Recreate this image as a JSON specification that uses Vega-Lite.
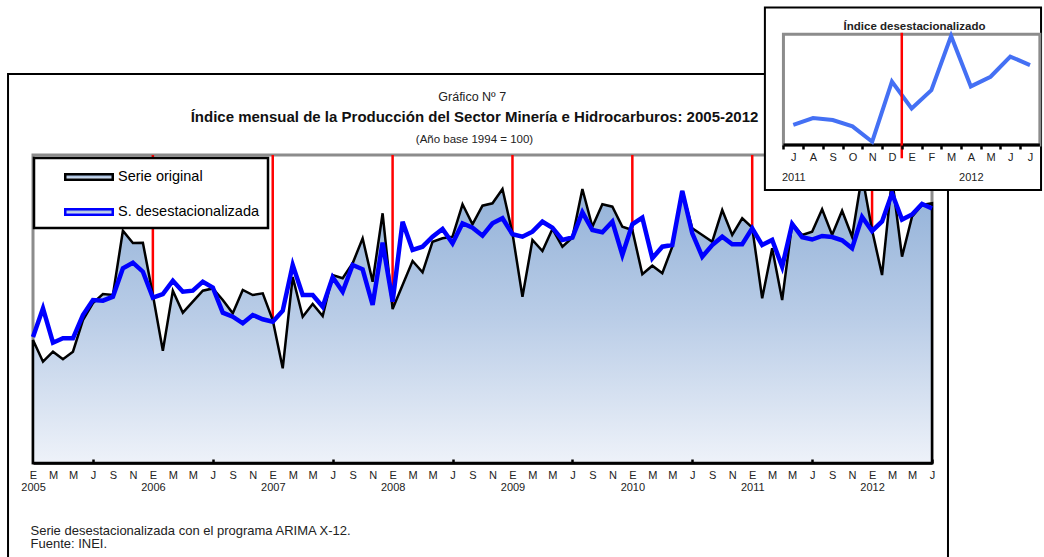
{
  "$schema": "https://vega.github.io/schema/vega-lite/v6.json",
  "autosize": {"type": "none"},
  "width": 899,
  "height": 308,
  "padding": {"left": 33, "top": 155, "right": 112, "bottom": 94},
  "background": "white",
  "config": {
    "view": {"stroke": null},
    "font": "Liberation Sans",
    "axis": {"grid": false, "labelOverlap": false, "labelFlush": false, "labelBound": false},
    "legend": {"strokeWidth": 2.5}
  },
  "title": {
    "text": "Índice mensual de la Producción del Sector Minería e Hidrocarburos: 2005-2012",
    "subtitle": "(Año base 1994 = 100)",
    "anchor": "middle",
    "frame": "group",
    "dx": -8,
    "offset": -139,
    "font": "Liberation Sans",
    "fontSize": 15,
    "fontWeight": "bold",
    "color": "#111111",
    "subtitleFont": "Liberation Sans",
    "subtitleFontSize": 11.5,
    "subtitleColor": "#222222",
    "subtitlePadding": 9
  },
  "data": {
    "values": [
      {"t": 0, "fecha": "2005-01", "orig": 123, "desest": 126},
      {"t": 1, "fecha": "2005-02", "orig": 101.3, "desest": 154.7},
      {"t": 2, "fecha": "2005-03", "orig": 111.3, "desest": 120.3},
      {"t": 3, "fecha": "2005-04", "orig": 103.7, "desest": 124.7},
      {"t": 4, "fecha": "2005-05", "orig": 111.3, "desest": 124.7},
      {"t": 5, "fecha": "2005-06", "orig": 143, "desest": 148},
      {"t": 6, "fecha": "2005-07", "orig": 160, "desest": 163},
      {"t": 7, "fecha": "2005-08", "orig": 169, "desest": 162.3},
      {"t": 8, "fecha": "2005-09", "orig": 168, "desest": 166.3},
      {"t": 9, "fecha": "2005-10", "orig": 232.3, "desest": 194.7},
      {"t": 10, "fecha": "2005-11", "orig": 220, "desest": 200.3},
      {"t": 11, "fecha": "2005-12", "orig": 220.3, "desest": 191.3},
      {"t": 12, "fecha": "2006-01", "orig": 168, "desest": 165.3},
      {"t": 13, "fecha": "2006-02", "orig": 112.3, "desest": 169},
      {"t": 14, "fecha": "2006-03", "orig": 172.3, "desest": 182.3},
      {"t": 15, "fecha": "2006-04", "orig": 150.3, "desest": 171.3},
      {"t": 16, "fecha": "2006-05", "orig": 161.3, "desest": 172.3},
      {"t": 17, "fecha": "2006-06", "orig": 172.3, "desest": 181.3},
      {"t": 18, "fecha": "2006-07", "orig": 174.5, "desest": 175.5},
      {"t": 19, "fecha": "2006-08", "orig": 163, "desest": 150.3},
      {"t": 20, "fecha": "2006-09", "orig": 149.7, "desest": 146.3},
      {"t": 21, "fecha": "2006-10", "orig": 173, "desest": 139.7},
      {"t": 22, "fecha": "2006-11", "orig": 168, "desest": 148},
      {"t": 23, "fecha": "2006-12", "orig": 169.7, "desest": 143.7},
      {"t": 24, "fecha": "2007-01", "orig": 143, "desest": 141.3},
      {"t": 25, "fecha": "2007-02", "orig": 94.7, "desest": 152.3},
      {"t": 26, "fecha": "2007-03", "orig": 186, "desest": 198},
      {"t": 27, "fecha": "2007-04", "orig": 146.3, "desest": 168},
      {"t": 28, "fecha": "2007-05", "orig": 159, "desest": 168},
      {"t": 29, "fecha": "2007-06", "orig": 147, "desest": 156.3},
      {"t": 30, "fecha": "2007-07", "orig": 188, "desest": 185.7},
      {"t": 31, "fecha": "2007-08", "orig": 184.7, "desest": 171.3},
      {"t": 32, "fecha": "2007-09", "orig": 199.7, "desest": 198},
      {"t": 33, "fecha": "2007-10", "orig": 224.7, "desest": 193.7},
      {"t": 34, "fecha": "2007-11", "orig": 181.3, "desest": 158},
      {"t": 35, "fecha": "2007-12", "orig": 249.7, "desest": 220.3},
      {"t": 36, "fecha": "2008-01", "orig": 154, "desest": 161.3},
      {"t": 37, "fecha": "2008-02", "orig": 178, "desest": 241.3},
      {"t": 38, "fecha": "2008-03", "orig": 202, "desest": 213},
      {"t": 39, "fecha": "2008-04", "orig": 190.7, "desest": 216.3},
      {"t": 40, "fecha": "2008-05", "orig": 221.3, "desest": 226.3},
      {"t": 41, "fecha": "2008-06", "orig": 224.7, "desest": 234},
      {"t": 42, "fecha": "2008-07", "orig": 226.3, "desest": 219.7},
      {"t": 43, "fecha": "2008-08", "orig": 258.7, "desest": 239.7},
      {"t": 44, "fecha": "2008-09", "orig": 238.7, "desest": 235.3},
      {"t": 45, "fecha": "2008-10", "orig": 257.3, "desest": 227.3},
      {"t": 46, "fecha": "2008-11", "orig": 259.7, "desest": 239.7},
      {"t": 47, "fecha": "2008-12", "orig": 274, "desest": 244.7},
      {"t": 48, "fecha": "2009-01", "orig": 229.7, "desest": 228.7},
      {"t": 49, "fecha": "2009-02", "orig": 166.3, "desest": 226.3},
      {"t": 50, "fecha": "2009-03", "orig": 223, "desest": 231.3},
      {"t": 51, "fecha": "2009-04", "orig": 212, "desest": 241.3},
      {"t": 52, "fecha": "2009-05", "orig": 234, "desest": 235.3},
      {"t": 53, "fecha": "2009-06", "orig": 216.3, "desest": 223},
      {"t": 54, "fecha": "2009-07", "orig": 225.5, "desest": 225.5},
      {"t": 55, "fecha": "2009-08", "orig": 274, "desest": 250.7},
      {"t": 56, "fecha": "2009-09", "orig": 236.3, "desest": 233},
      {"t": 57, "fecha": "2009-10", "orig": 258.7, "desest": 230.7},
      {"t": 58, "fecha": "2009-11", "orig": 256.3, "desest": 241.3},
      {"t": 59, "fecha": "2009-12", "orig": 236.3, "desest": 208},
      {"t": 60, "fecha": "2010-01", "orig": 233, "desest": 238.7},
      {"t": 61, "fecha": "2010-02", "orig": 188.7, "desest": 245.3},
      {"t": 62, "fecha": "2010-03", "orig": 197.3, "desest": 204.7},
      {"t": 63, "fecha": "2010-04", "orig": 189.7, "desest": 216.3},
      {"t": 64, "fecha": "2010-05", "orig": 216.3, "desest": 218},
      {"t": 65, "fecha": "2010-06", "orig": 272, "desest": 272},
      {"t": 66, "fecha": "2010-07", "orig": 234.7, "desest": 229.7},
      {"t": 67, "fecha": "2010-08", "orig": 228, "desest": 206.3},
      {"t": 68, "fecha": "2010-09", "orig": 221.3, "desest": 218},
      {"t": 69, "fecha": "2010-10", "orig": 253, "desest": 226.3},
      {"t": 70, "fecha": "2010-11", "orig": 228, "desest": 218.7},
      {"t": 71, "fecha": "2010-12", "orig": 244.7, "desest": 218.7},
      {"t": 72, "fecha": "2011-01", "orig": 235.5, "desest": 234.7},
      {"t": 73, "fecha": "2011-02", "orig": 164.7, "desest": 218},
      {"t": 74, "fecha": "2011-03", "orig": 214.7, "desest": 223},
      {"t": 75, "fecha": "2011-04", "orig": 163, "desest": 196.3},
      {"t": 76, "fecha": "2011-05", "orig": 239.7, "desest": 239},
      {"t": 77, "fecha": "2011-06", "orig": 228, "desest": 225.7},
      {"t": 78, "fecha": "2011-07", "orig": 231.3, "desest": 223.5},
      {"t": 79, "fecha": "2011-08", "orig": 253.7, "desest": 227},
      {"t": 80, "fecha": "2011-09", "orig": 228, "desest": 226},
      {"t": 81, "fecha": "2011-10", "orig": 252.3, "desest": 222.7},
      {"t": 82, "fecha": "2011-11", "orig": 226.3, "desest": 214.7},
      {"t": 83, "fecha": "2011-12", "orig": 288, "desest": 246},
      {"t": 84, "fecha": "2012-01", "orig": 233, "desest": 232},
      {"t": 85, "fecha": "2012-02", "orig": 188, "desest": 241.5},
      {"t": 86, "fecha": "2012-03", "orig": 285, "desest": 269.7},
      {"t": 87, "fecha": "2012-04", "orig": 206.3, "desest": 243.5},
      {"t": 88, "fecha": "2012-05", "orig": 246.3, "desest": 248.5},
      {"t": 89, "fecha": "2012-06", "orig": 258, "desest": 259},
      {"t": 90, "fecha": "2012-07", "orig": 259.7, "desest": 254.6}
    ]
  },
  "layer": [
    {
      "layer": [
        {
          "data": {"values": [{}]},
          "mark": {"type": "rect", "fill": "transparent", "stroke": "#000000", "strokeWidth": 2},
          "encoding": {
            "x": {"datum": -2.5, "type": "quantitative", "scale": {"domain": [0, 90], "nice": false, "zero": false}, "axis": null},
            "x2": {"datum": 91.6},
            "y": {"datum": 389, "type": "quantitative", "scale": {"domain": [0, 308], "nice": false, "zero": false}},
            "y2": {"datum": -137}
          }
        },
        {
          "data": {"values": [{}]},
          "mark": {"type": "rect", "fill": "transparent", "stroke": "#8c8c8c", "strokeWidth": 3},
          "encoding": {}
        },
        {
          "data": {"values": [{"t": 12}, {"t": 24}, {"t": 36}, {"t": 48}, {"t": 60}, {"t": 72}, {"t": 84}]},
          "mark": {"type": "rule", "color": "#ff0000", "strokeWidth": 2.5},
          "encoding": {
            "x": {
              "field": "t", "type": "quantitative",
              "scale": {"domain": [0, 90], "nice": false, "zero": false},
              "axis": {
                "orient": "bottom",
                "values": [6, 18, 30, 42, 54, 66, 78, 90],
                "labelExpr": "'' + (2005 + floor(datum.value / 12))",
                "labelOffset": -59.9,
                "labelFontSize": 11,
                "labelColor": "#222222",
                "labelPadding": 22,
                "labelOverlap": false,
                "labelFlush": false,
                "labelBound": false,
                "ticks": true,
                "tickSize": -4,
                "tickWidth": 2.5,
                "tickColor": "#000000",
                "domain": false,
                "zindex": 1,
                "title": null
              }
            }
          }
        },
        {
          "mark": {
            "type": "area",
            "strokeWidth": 2.5,
            "strokeJoin": "miter",
            "fill": {
              "x1": 0, "y1": 0, "x2": 0, "y2": 1,
              "gradient": "linear",
              "stops": [
                {"offset": 0, "color": "#8fafd7"},
                {"offset": 0.5, "color": "#bacde7"},
                {"offset": 1, "color": "#eef2f9"}
              ]
            }
          },
          "encoding": {
            "x": {
              "field": "t", "type": "quantitative",
              "scale": {"domain": [0, 90], "nice": false, "zero": false},
              "axis": {
                "orient": "bottom",
                "values": [0,2,4,6,8,10,12,14,16,18,20,22,24,26,28,30,32,34,36,38,40,42,44,46,48,50,52,54,56,58,60,62,64,66,68,70,72,74,76,78,80,82,84,86,88,90],
                "labelExpr": "['E','F','M','A','M','J','J','A','S','O','N','D'][datum.value % 12]",
                "labelFontSize": 11,
                "labelColor": "#222222",
                "labelPadding": 6,
                "labelFlush": false,
                "labelOverlap": false,
                "labelBound": false,
                "ticks": false,
                "domain": true,
                "domainColor": "#000000",
                "domainWidth": 2.5,
                "zindex": 1,
                "title": ["Serie desestacionalizada  con el programa ARIMA X-12.", "Fuente: INEI."],
                "titleX": -3,
                "titleY": 61,
                "titleAlign": "left",
                "titleAnchor": "start",
                "titleBaseline": "top",
                "titleFontSize": 13,
                "titleFontWeight": "normal",
                "titleColor": "#222222",
                "titleLineHeight": 13
              }
            },
            "y": {
              "field": "orig", "type": "quantitative",
              "scale": {"domain": [0, 308], "nice": false, "zero": false},
              "axis": {
                "orient": "left",
                "labels": false,
                "ticks": false,
                "domain": false,
                "title": "Gráfico Nº 7",
                "titleAngle": 0,
                "titleX": 438.7,
                "titleY": -58.3,
                "titleAlign": "center",
                "titleBaseline": "middle",
                "titleFontSize": 12.5,
                "titleFontWeight": "normal",
                "titleColor": "#222222"
              }
            },
            "stroke": {
              "datum": "Serie original",
              "type": "nominal",
              "scale": {"domain": ["Serie original", "S. desestacionalizada"], "range": ["#000000", "#0000ff"]},
              "legend": {
                "title": null,
                "orient": "none",
                "legendX": 1,
                "legendY": 3,
                "direction": "vertical",
                "fillColor": "#ffffff",
                "strokeColor": "#000000",
                "padding": 8,
                "symbolType": "M-2.5,-0.28H2.5V0.28H-2.5Z",
                "symbolSize": 361,
                "symbolStrokeWidth": 2.5,
                "symbolOffset": 36,
                "labelOffset": 18,
                "labelFontSize": 14.5,
                "labelColor": "#000000",
                "rowPadding": 16,
                "zindex": 1
              }
            }
          }
        },
        {
          "mark": {"type": "line", "color": "#0000ff", "strokeWidth": 4.5, "strokeJoin": "miter"},
          "encoding": {
            "x": {"field": "t", "type": "quantitative", "scale": {"domain": [0, 90], "nice": false, "zero": false}, "axis": null},
            "y": {"field": "desest", "type": "quantitative", "scale": {"domain": [0, 308], "nice": false, "zero": false}}
          }
        }
      ],
      "resolve": {"axis": {"x": "independent"}}
    },
    {
      "transform": [{"filter": "datum.t >= 78"}],
      "layer": [
        {
          "data": {"values": [{}]},
          "mark": {"type": "rect", "fill": "#ffffff", "stroke": "#000000", "strokeWidth": 2},
          "encoding": {
            "x": {"datum": 76.56, "type": "quantitative", "scale": {"domain": [78, 90], "range": [760.3, 997], "nice": false, "zero": false}},
            "x2": {"datum": 90.56},
            "y": {"datum": 284.5, "type": "quantitative", "scale": {"domain": [213, 270.6], "range": [-10, -120.7], "nice": false, "zero": false}},
            "y2": {"datum": 189.6}
          }
        },
        {
          "data": {"values": [{}]},
          "mark": {"type": "rect", "fill": "transparent", "stroke": "#8c8c8c", "strokeWidth": 3},
          "encoding": {
            "x": {"datum": 77.5, "type": "quantitative", "scale": {"domain": [78, 90], "range": [760.3, 997], "nice": false, "zero": false}},
            "x2": {"datum": 90.5},
            "y": {"datum": 270.6, "type": "quantitative", "scale": {"domain": [213, 270.6], "range": [-10, -120.7], "nice": false, "zero": false}},
            "y2": {"datum": 213}
          }
        },
        {
          "data": {"values": [{}]},
          "mark": {"type": "rule", "color": "#000000", "strokeWidth": 3},
          "encoding": {
            "x": {"datum": 77.5, "type": "quantitative", "scale": {"domain": [78, 90], "range": [760.3, 997], "nice": false, "zero": false}},
            "x2": {"datum": 90.5},
            "y": {"datum": 213, "type": "quantitative", "scale": {"domain": [213, 270.6], "range": [-10, -120.7], "nice": false, "zero": false}}
          }
        },
        {
          "mark": {"type": "line", "color": "#4470f4", "strokeWidth": 4, "strokeJoin": "miter"},
          "encoding": {
            "x": {
              "field": "t", "type": "quantitative",
              "scale": {"domain": [78, 90], "range": [760.3, 997], "nice": false, "zero": false},
              "axis": {
                "orient": "bottom",
                "offset": -318,
                "values": [78, 79, 80, 81, 82, 83, 84, 85, 86, 87, 88, 89, 90],
                "labelExpr": "datum.value == 78 ? ['J', '2011'] : datum.value == 87 ? ['A', '2012'] : ['E','F','M','A','M','J','J','A','S','O','N','D'][datum.value % 12]",
                "labelFontSize": 11,
                "labelColor": "#222222",
                "labelLineHeight": 20,
                "labelPadding": 2,
                "labelFlush": false,
                "labelOverlap": false,
                "labelBound": false,
                "ticks": true,
                "tickSize": 4,
                "tickWidth": 2.5,
                "tickColor": "#000000",
                "tickOffset": -9.86,
                "labelOffset": 9.86,
                "domain": false,
                "zindex": 2,
                "title": null
              }
            },
            "y": {
              "field": "desest", "type": "quantitative",
              "scale": {"domain": [213, 270.6], "range": [-10, -120.7], "nice": false, "zero": false},
              "axis": {
                "orient": "right",
                "labels": false,
                "ticks": false,
                "domain": false,
                "zindex": 2,
                "title": "Índice desestacionalizado",
                "titleAngle": 0,
                "titleX": -18,
                "titleY": -128.3,
                "titleAlign": "center",
                "titleBaseline": "middle",
                "titleFontSize": 11.5,
                "titleFontWeight": "bold",
                "titleColor": "#222222"
              }
            }
          }
        },
        {
          "data": {"values": [{}]},
          "mark": {"type": "rule", "color": "#ff0000", "strokeWidth": 2.5},
          "encoding": {
            "x": {"datum": 83.5, "type": "quantitative", "scale": {"domain": [78, 90], "range": [760.3, 997], "nice": false, "zero": false}},
            "y": {"datum": 271.4, "type": "quantitative", "scale": {"domain": [213, 270.6], "range": [-10, -120.7], "nice": false, "zero": false}},
            "y2": {"datum": 206.1}
          }
        }
      ]
    }
  ],
  "resolve": {
    "scale": {"x": "independent", "y": "independent"},
    "axis": {"x": "independent", "y": "independent"}
  }
}
